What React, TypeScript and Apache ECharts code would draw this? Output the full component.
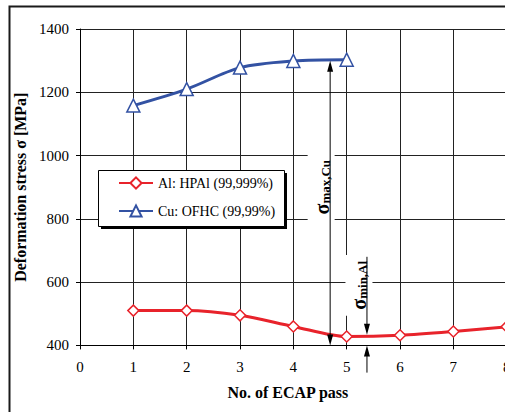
import React, { useEffect, useRef } from "react";
import * as echarts from "echarts";

// Deformation stress after each ECAP pass
const alPasses = [1, 2, 3, 4, 5, 6, 7, 8];
const alStress = [510, 510, 495, 460, 428, 432, 444, 459];
const cuPasses = [1, 2, 3, 4, 5];
const cuStress = [1158, 1210, 1278, 1299, 1303];

const seriesNames = ["Al: HPAl (99,999%)", "Cu: OFHC (99,99%)"];

// Axis ranges
const passRange = [0, 8];
const stressRange = [400, 1400];

// Annotation arrows: [pass, start stress, tip stress]
const maxCuUp = [4.69, 900, 1300];
const maxCuDown = [4.69, 900, 400];
const minAlDown = [5.38, 680, 434];
const minAlUp = [5.38, 314, 400];
// Stress level at which each annotation label is centred
const maxCuLabelAt = 900;
const minAlLabelAt = 590;

const font = "'Liberation Serif', 'Times New Roman', serif";
const RED = "#e8232b";
const BLUE = "#3352a3";

// Legend box placement
const LEG = { x: 98, y: 170, w: 186, h: 56 };

export default function App() {
  const ref = useRef<HTMLDivElement>(null);

  useEffect(() => {
    if (!ref.current) return;
    const chart = echarts.init(ref.current, undefined, { renderer: "svg" });

    const axisText = { fontFamily: font, fontSize: 15, color: "#000" };
    const nameText = { fontFamily: font, fontSize: 16, fontWeight: "bold" as const, color: "#000" };
    const plain = (v: number) => String(v);

    chart.setOption({
      animation: false,
      backgroundColor: "#fff",
      textStyle: { fontFamily: font },
      grid: { left: 80, top: 29, width: 426.7, height: 316.4 },
      xAxis: {
        type: "value",
        min: passRange[0],
        max: passRange[1],
        interval: 1,
        name: "No. of ECAP pass",
        nameLocation: "middle",
        nameGap: 39,
        nameTextStyle: { ...nameText, padding: [0, 11, 0, 0] },
        axisLine: { show: true, onZero: false, lineStyle: { color: "#000", width: 1 } },
        axisTick: { show: true, length: 4, lineStyle: { color: "#000" } },
        axisLabel: { ...axisText, margin: 14, formatter: plain },
        splitLine: { show: true, lineStyle: { color: "#222", width: 1 } },
      },
      yAxis: {
        type: "value",
        min: stressRange[0],
        max: stressRange[1],
        interval: 200,
        name: "Deformation stress σ [MPa]",
        nameLocation: "middle",
        nameGap: 43,
        nameTextStyle: nameText,
        axisLine: { show: true, lineStyle: { color: "#000", width: 1 } },
        axisTick: { show: true, length: 4, lineStyle: { color: "#000" } },
        axisLabel: { ...axisText, margin: 11, formatter: plain },
        splitLine: { show: true, lineStyle: { color: "#222", width: 1 } },
      },
      legend: {
        orient: "vertical",
        left: LEG.x,
        top: LEG.y,
        padding: [6, 12, 9, 20],
        itemGap: 14,
        itemWidth: 34,
        itemHeight: 14,
        z: 6,
        textStyle: { fontFamily: font, fontSize: 14, color: "#000" },
        data: seriesNames,
      },
      series: [
        {
          name: seriesNames[0],
          type: "line",
          smooth: 0.3,
          data: alPasses.map((p, i) => [p, alStress[i]]),
          symbol: "diamond",
          symbolSize: 11,
          lineStyle: { color: RED, width: 3 },
          itemStyle: { color: "#fff", borderColor: RED, borderWidth: 1.5 },
          z: 3,
        },
        {
          name: seriesNames[1],
          type: "line",
          smooth: 0.3,
          data: cuPasses.map((p, i) => [p, cuStress[i]]),
          symbol: "triangle",
          symbolSize: 13,
          lineStyle: { color: BLUE, width: 3 },
          itemStyle: { color: "#fff", borderColor: BLUE, borderWidth: 1.5 },
          z: 3,
        },
      ],
    });

    const px = (x: number, y: number) =>
      chart.convertToPixel({ gridIndex: 0 }, [x, y]) as number[];

    const arrow = (spec: number[]) => {
      const a = px(spec[0], spec[1]);
      const b = px(spec[0], spec[2]);
      const dir = Math.sign(b[1] - a[1]);
      return [
        {
          type: "line",
          z: 4,
          shape: { x1: a[0], y1: a[1], x2: b[0], y2: b[1] - dir * 4 },
          style: { stroke: "#000", lineWidth: 1 },
        },
        {
          type: "polygon",
          z: 4,
          shape: {
            points: [
              [b[0], b[1]],
              [b[0] - 3, b[1] - dir * 11],
              [b[0] + 3, b[1] - dir * 11],
            ],
          },
          style: { fill: "#000" },
        },
      ];
    };

    const sigma = (sub: string, x: number, y: number) => ({
      type: "text",
      z: 1,
      x,
      y,
      rotation: Math.PI / 2,
      style: {
        text: `{s|σ}{t|${sub}}`,
        rich: {
          s: { fontFamily: font, fontSize: 20, fontWeight: "bold", verticalAlign: "bottom", lineHeight: 20 },
          t: { fontFamily: font, fontSize: 13, fontWeight: "bold", verticalAlign: "bottom", lineHeight: 9 },
        },
        fill: "#000",
        align: "center",
        verticalAlign: "middle",
        backgroundColor: "#fff",
        padding: [4, 6, 3, 6],
      },
    });

    const maxAt = px(maxCuUp[0], maxCuLabelAt);
    const minAt = px(minAlDown[0], minAlLabelAt);

    chart.setOption({
      graphic: [
        {
          type: "rect",
          z: 0,
          shape: { x: 9.5, y: 6.5, width: 700, height: 600 },
          style: { fill: "none", stroke: "#1a1a1a", lineWidth: 2 },
        },
        // legend frame with its drop shadow
        {
          type: "rect",
          z: 5,
          shape: { x: LEG.x + 3, y: LEG.y + 3, width: LEG.w, height: LEG.h },
          style: { fill: "#000" },
        },
        {
          type: "rect",
          z: 5,
          shape: { x: LEG.x + 0.5, y: LEG.y + 0.5, width: LEG.w, height: LEG.h },
          style: { fill: "#fff", stroke: "#000", lineWidth: 1 },
        },
        sigma("max,Cu", maxAt[0] - 9, maxAt[1]),
        sigma("min,Al", minAt[0] - 8, minAt[1]),
        ...arrow(maxCuUp),
        ...arrow(maxCuDown),
        ...arrow(minAlDown),
        ...arrow(minAlUp),
      ],
    });

    return () => chart.dispose();
  }, []);

  return (
    <div
      style={{
        position: "fixed",
        left: 0,
        top: 0,
        width: 505,
        height: 412,
        overflow: "hidden",
        background: "#fff",
      }}
    >
      <div ref={ref} style={{ width: 540, height: 412 }} />
    </div>
  );
}
